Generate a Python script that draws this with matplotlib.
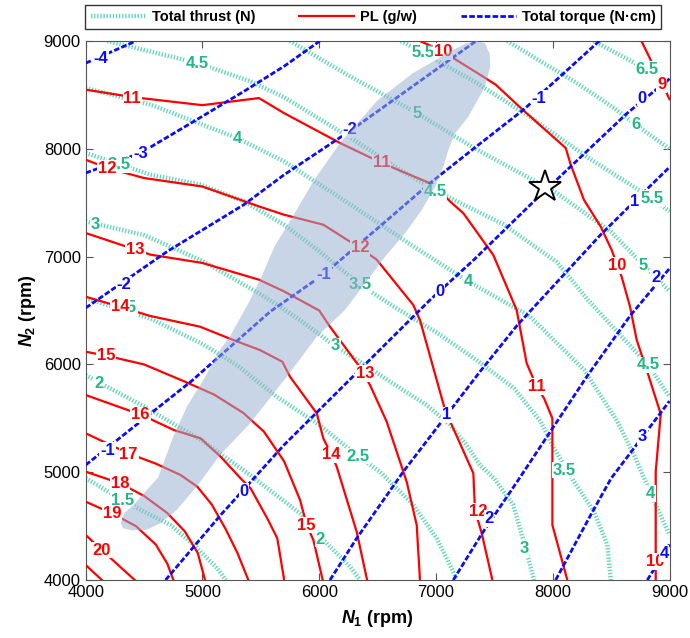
import numpy as np
import matplotlib.pyplot as plt
from matplotlib.lines import Line2D

plt.rcParams['font.family'] = ['Liberation Sans', 'DejaVu Sans']
plt.rcParams['mathtext.fontset'] = 'custom'
plt.rcParams['mathtext.it'] = 'Liberation Sans:italic:bold'
plt.rcParams['mathtext.rm'] = 'Liberation Sans:bold'
plt.rcParams['mathtext.bf'] = 'Liberation Sans:bold'

# ---- data: contour lines as (N1, N2) vertices in rpm ----
thrust_levels = [1.5, 2, 2.5, 3, 3.5, 4, 4.5, 5, 5.5, 6, 6.5]
thrust_n1 = [
    [4000, 4310, 4500, 4727, 4927, 5127, 5200],
    [4000, 4500, 5000, 5408, 5836, 6036, 6264, 6350],
    [4000, 4551, 5000, 5300, 5636, 6000, 6320, 6520, 6806, 7006, 7148, 7177],
    [4000, 4500, 5000, 5500, 5836, 6136, 6400, 6606, 6920, 7120, 7263, 7377, 7500, 7660, 7754, 7840],
    [4000, 4556, 4984, 5355, 5698, 6000, 6349, 6663, 7000, 7348, 7669, 7897, 8011, 8182, 8354, 8468, 8497],
    [4000, 4556, 5298, 5698, 6300, 6800, 7277, 7800, 8268, 8554, 8700, 8839, 9000],
    [4185, 4956, 5413, 5698, 6300, 6700, 7035, 7577, 8034, 8300, 8554, 8819, 9000],
    [5750, 6235, 6835, 7326, 8034, 8500, 8776, 9000],
    [6700, 6892, 7326, 7800, 8300, 8848, 9000],
    [7612, 7897, 8183, 8525, 8711, 9000],
    [8350, 8810, 9000],
]
thrust_n2 = [
    [4945, 4745, 4634, 4510, 4325, 4108, 4000],
    [5900, 5610, 5290, 4974, 4618, 4371, 4123, 4000],
    [6616, 6427, 6190, 5990, 5700, 5440, 5160, 5005, 4696, 4387, 4077, 4000],
    [7327, 7200, 6960, 6650, 6411, 6170, 5990, 5840, 5623, 5438, 5252, 5067, 4940, 4700, 4350, 4000],
    [7961, 7760, 7668, 7513, 7296, 7050, 6740, 6520, 6300, 6040, 5778, 5469, 5222, 4912, 4634, 4325, 4000],
    [8564, 8410, 8100, 7884, 7460, 7100, 6768, 6450, 5950, 5469, 5150, 4804, 4418],
    [9000, 8796, 8626, 8480, 8080, 7800, 7590, 7300, 6950, 6600, 6300, 5995, 5700],
    [9000, 8690, 8332, 8008, 7590, 7230, 6922, 6680],
    [9000, 8889, 8626, 8300, 7920, 7541, 7420],
    [9000, 8811, 8626, 8379, 8224, 8000],
    [9000, 8734, 8600],
]

pl_levels = [9, 10, 11, 12, 13, 14, 15, 16, 17, 18, 19, 20, 21]
pl_n1 = [
    [8760, 8939, 9000],
    [6863, 7063, 7148, 7377, 7512, 7726, 7983, 8111, 8154, 8268, 8411, 8505, 8554, 8590, 8662, 8719,
     8805, 8925, 8882, 8882],
    [4000, 4400, 5000, 5484, 5698, 6178, 6535, 6977, 7120, 7235, 7491, 7691, 7777, 7863, 7926, 7997,
     7997, 8125],
    [4000, 4185, 4500, 5000, 5500, 5698, 6035, 6349, 6492, 6806, 6863, 7078, 7320, 7334, 7392, 7483],
    [4000, 4427, 4556, 5000, 5484, 5698, 6000, 6092, 6335, 6435, 6578, 6749, 6835, 6863],
    [4000, 4294, 4551, 4979, 5265, 5493, 5684, 5750, 5979, 6035, 6107, 6150, 6321, 6410],
    [4000, 4180, 4500, 4850, 5100, 5350, 5527, 5700, 5836, 5893, 5950, 6030],
    [4000, 4480, 4756, 4984, 5156, 5327, 5413, 5555, 5641, 5700],
    [4000, 4365, 4600, 4813, 4956, 5080, 5200, 5300, 5393],
    [4000, 4294, 4500, 4700, 4850, 4960, 5022],
    [4000, 4223, 4430, 4600, 4700, 4751],
    [4000, 4137, 4420],
    [4000, 4139],
]
pl_n2 = [
    [9000, 8600, 8460],
    [9000, 8904, 8842, 8688, 8595, 8379, 8131, 8008, 7853, 7525, 7278, 7061, 6915, 6814, 6536, 6227,
     5948, 5540, 5005, 4000],
    [8549, 8480, 8405, 8471, 8332, 8054, 7869, 7668, 7513, 7402, 7015, 6505, 6010, 5794, 5685, 5500,
     4510, 4000],
    [7899, 7822, 7729, 7650, 7460, 7389, 7296, 7080, 6972, 6551, 6412, 5577, 4990, 4650, 4433, 4000],
    [7219, 7065, 7018, 6941, 6786, 6678, 6500, 6350, 5994, 5809, 5469, 4912, 4510, 4000],
    [6628, 6535, 6450, 6350, 6226, 6133, 6025, 5886, 5546, 5314, 5159, 5051, 4448, 4000],
    [6118, 6080, 6000, 5840, 5720, 5550, 5376, 5100, 4742, 4510, 4371, 4000],
    [5716, 5531, 5391, 5314, 5144, 4943, 4850, 4572, 4387, 4000],
    [5361, 5175, 5080, 4974, 4866, 4700, 4470, 4250, 4000],
    [5005, 4897, 4780, 4620, 4450, 4250, 4000],
    [4727, 4619, 4500, 4330, 4150, 4000],
    [4418, 4278, 4000],
    [4139, 4000],
]

torque_levels = [-4, -3, -2, -1, 0, 1, 2, 3, 4]
torque_n1 = [
    [4000, 4430],
    [4000, 4470, 4927, 5355, 5698, 6005],
    [4000, 4700, 5355, 5700, 6280, 7320, 7345],
    [4000, 4900, 5580, 6035, 6520, 6950, 7330, 7750, 8380, 8400],
    [4684, 5156, 5698, 6300, 6949, 7326, 7868, 8639, 9000],
    [6092, 6321, 6720, 7092, 7377, 7697, 8411, 8700, 9000],
    [7148, 7400, 7700, 8000, 8300, 8662, 9000],
    [8025, 8325, 8500, 8770, 9000],
    [8810, 9000],
]
torque_n2 = [
    [8795, 9000],
    [7776, 7961, 8255, 8533, 8765, 9000],
    [6524, 7049, 7482, 7760, 8178, 8982, 9000],
    [5067, 5840, 6490, 6833, 7281, 7683, 8008, 8363, 8982, 9000],
    [4000, 4603, 5252, 5900, 6598, 6972, 7544, 8332, 8650],
    [4000, 4387, 5005, 5531, 5933, 6365, 7204, 7513, 7830],
    [4000, 4440, 4920, 5410, 5900, 6450, 6890],
    [4000, 4603, 4943, 5330, 5660],
    [4000, 4330],
]

# shaded region outline (rpm)
blob_n1 = [4300, 4330, 4413, 4520, 4620, 4750, 4870, 5010, 5160, 5230, 5395, 5500, 5620, 5778, 5950,
           6178, 6278, 6500, 6800, 7100, 7250, 7340, 7420, 7460, 7465, 7420, 7277, 7163, 7106, 7063,
           6992, 6878, 6735, 6564, 6392, 6221, 5979, 5722, 5408, 5150, 4951, 4779, 4637, 4520, 4400, 4320]
blob_n2 = [4530, 4620, 4700, 4830, 4950, 5330, 5615, 5860, 6150, 6250, 6570, 6800, 7100, 7380, 7700,
           8054, 8178, 8450, 8700, 8890, 8975, 9000, 8980, 8880, 8760, 8576, 8298, 8143, 7989, 7834,
           7648, 7432, 7216, 6999, 6752, 6505, 6257, 5886, 5453, 5159, 4866, 4649, 4525, 4465, 4460, 4480]

star_n1, star_n2 = 7935, 7650

# inline label placement (layout)
thrust_lab = [(1.5, 4313, 4742), (2, 4110, 5824), (2, 6007, 4380), (2.5, 4340, 6525), (2.5, 6335, 5150),
              (3, 4085, 7296), (3, 6136, 6172), (3, 7754, 4294), (3.5, 4285, 7850), (3.5, 6349, 6740),
              (3.5, 8097, 5020), (4, 5298, 8100), (4, 7277, 6768), (4, 8839, 4804), (4.5, 4956, 8796),
              (4.5, 6992, 7600), (4.5, 8819, 5995), (5, 6835, 8332), (5, 8772, 6916), (5.5, 6892, 8889),
              (5.5, 8852, 7541), (6, 8711, 8224), (6.5, 8810, 8734)]
pl_lab = [(9, 8935, 8595), (10, 7063, 8900), (10, 8554, 6915), (10, 8875, 4170), (11, 4399, 8471),
          (11, 6535, 7869), (11, 7866, 5794), (12, 4185, 7822), (12, 6349, 7080), (12, 7360, 4634),
          (13, 4427, 7065), (13, 6392, 5917), (14, 4294, 6535), (14, 6107, 5160), (15, 4175, 6080),
          (15, 5893, 4510), (16, 4470, 5531), (17, 4368, 5168), (18, 4297, 4897), (19, 4225, 4619),
          (20, 4140, 4278)]
torque_lab = [(-4, 4128, 8836), (-3, 4470, 7961), (-2, 4328, 6740), (-2, 6265, 8175), (-1, 4185, 5206),
              (-1, 6035, 6833), (-1, 7883, 8471), (0, 5355, 4819), (0, 7034, 6678), (0, 8768, 8471),
              (1, 7092, 5531), (1, 8700, 7513), (2, 7454, 4572), (2, 8882, 6802), (3, 8768, 5330),
              (4, 8953, 4247)]

green_line = '#5fd8b8'
green_txt = '#1fb985'
red = '#ff0000'
blue = '#0a0aff'
thrust_style = dict(color=green_line, lw=3.2, ls=(0, (0.3, 0.4)), solid_capstyle='butt')
pl_style = dict(color=red, lw=1.6)
torque_style = dict(color=blue, lw=2.0, ls=(0, (2.0, 0.8)))

fig = plt.figure(figsize=(6.9, 6.38), dpi=100)
ax = fig.add_axes([0.1242, 0.0909, 0.8461, 0.8448])

for n1, n2 in zip(thrust_n1, thrust_n2):
    ax.plot(n1, n2, zorder=2, **thrust_style)
for n1, n2 in zip(pl_n1, pl_n2):
    ax.plot(n1, n2, zorder=3, **pl_style)
for n1, n2 in zip(torque_n1, torque_n2):
    ax.plot(n1, n2, zorder=3.5, **torque_style)


def put_labels(items, color, z):
    for v, x, y in items:
        ax.text(x, y, '%g' % v, color=color, fontsize=12, fontweight='bold',
                ha='center', va='center', zorder=z,
                bbox=dict(boxstyle='square,pad=0.05', fc='white', ec='none'))


put_labels(thrust_lab, green_txt, 4)
put_labels(pl_lab, red, 5)
put_labels(torque_lab, blue, 6)

ax.fill(blob_n1, blob_n2, facecolor='#99b3d1', alpha=0.54, edgecolor='none', zorder=7)
ax.plot(star_n1, star_n2, marker='*', ms=24, mfc='white', mec='black', mew=1.4, zorder=8)

ax.set_xlim(4000, 9000)
ax.set_ylim(4000, 9000)
ax.set_xticks(np.arange(4000, 9001, 1000))
ax.set_yticks(np.arange(4000, 9001, 1000))
ax.tick_params(direction='in', length=5, top=True, right=True, labelsize=12, color='#555555')
for s in ax.spines.values():
    s.set_color('#555555')
ax.set_xlabel(r'$N_1$ (rpm)', fontsize=13, fontweight='bold', labelpad=6)
ax.set_ylabel(r'$N_2$ (rpm)', fontsize=13, fontweight='bold', labelpad=4)

handles = [Line2D([], [], **thrust_style), Line2D([], [], **pl_style), Line2D([], [], **torque_style)]
names = ['Total thrust (N)', 'PL (g/w)', 'Total torque (N\u00b7cm)']
leg = fig.legend(handles, names, loc='center', bbox_to_anchor=(0.541, 0.9735),
                 ncol=3, fancybox=False, edgecolor='black', handlelength=3.8,
                 prop=dict(weight='bold', size=10.5), borderaxespad=0, borderpad=0.35,
                 handletextpad=0.4, columnspacing=3.0)
leg.get_frame().set_linewidth(1.0)

fig.savefig('out.png', dpi=100)
